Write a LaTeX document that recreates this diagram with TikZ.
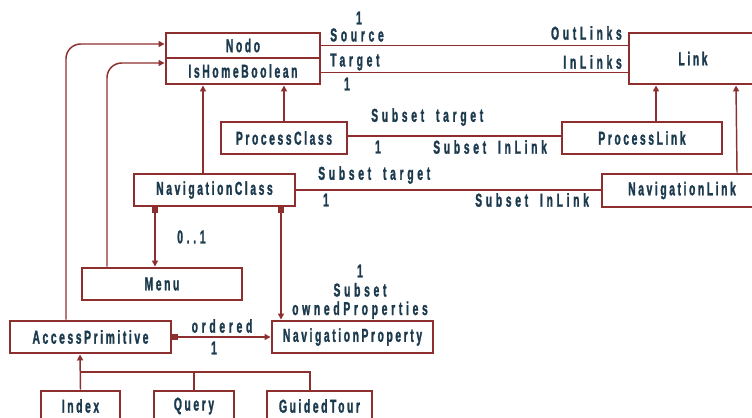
\documentclass[tikz,border=0pt]{standalone}
\usepackage{fontspec}
\newfontfamily\boxfont{Liberation Sans}[UprightFont={* Bold},FakeStretch=0.55,LetterSpace=14,WordSpace=1.8,FakeBold=1.4]
\newfontfamily\labelfont{Liberation Sans}[UprightFont={* Bold},FakeStretch=0.55,LetterSpace=20,WordSpace=1.8,FakeBold=1.4]
\usetikzlibrary{arrows.meta}
\newdimen\px \px=0.75pt
\definecolor{linered}{HTML}{8E2F2F}
\definecolor{ink}{HTML}{1C3A4E}
\tikzset{
  x=0.75pt, y=-0.75pt,
  box/.style={draw=linered, line width=2.2pt, fill=white, text=ink, inner sep=0pt,
    font=\boxfont\fontsize{14}{14}\selectfont},
  lbl/.style={text=ink, inner sep=0pt, font=\labelfont\fontsize{14}{14}\selectfont},
  conn/.style={draw=linered, line width=1.1pt},
  gen/.style={conn, -{Triangle[length=4.5pt,width=4.5pt]}},
  comp/.style={conn, {Square[length=4pt,width=4pt]}-{Triangle[length=4.5pt,width=4.5pt]}},
}
\begin{document}
\begin{tikzpicture}
\useasboundingbox (0,0) rectangle (752,417);
\clip (0,0) rectangle (752,417);

% classes
\node[box, minimum width=154\px, minimum height=25\px] (nodo) at (243,45.5) {Nodo};
\node[box, minimum width=154\px, minimum height=26\px] (home) at (243,71) {IsHomeBoolean};
\node[box, minimum width=128\px, minimum height=51\px] (link) at (693,58.5) {Link};
\node[box, minimum width=126\px, minimum height=32\px] (pclass) at (284,138) {ProcessClass};
\node[box, minimum width=160\px, minimum height=32\px] (plink) at (642,138) {ProcessLink};
\node[box, minimum width=161\px, minimum height=32\px] (navclass) at (214.5,190) {NavigationClass};
\node[box, minimum width=160\px, minimum height=33\px] (navlink) at (682,190.5) {NavigationLink};
\node[box, minimum width=160\px, minimum height=32\px] (menu) at (162,284) {Menu};
\node[box, minimum width=161\px, minimum height=32\px] (access) at (90.5,337) {AccessPrimitive};
\node[box, minimum width=161\px, minimum height=32\px] (navprop) at (352.5,337) {NavigationProperty};
\node[box, minimum width=79\px, minimum height=30\px] (index) at (80.5,406) {Index};
\node[box, minimum width=80\px, minimum height=30\px] (query) at (194,406) {Query};
\node[box, minimum width=105\px, minimum height=30\px] (gtour) at (319.5,406) {GuidedTour};

% associations between Nodo and Link
\draw[conn] (nodo.east) -- (nodo.east -| link.west);
\draw[conn] ([yshift=-1.5\px]home.east) -- ([yshift=-1.5\px]home.east -| link.west);
\node[lbl] (l1) at (359,18) {1};
\node[lbl, anchor=west] (l2) at (330,35) {Source};
\node[lbl, anchor=east] (l3) at (622,33) {OutLinks};
\node[lbl, anchor=west] (l4) at (330,62) {Target};
\node[lbl, anchor=east] (l5) at (622,62) {InLinks};
\node[lbl] (l6) at (347,84) {1};

% specialisations
\draw[gen] (pclass.north) -- (pclass.north |- home.south);
\draw[gen] ([xshift=-11.5\px]navclass.north) -- ([xshift=-40\px]home.south);
\draw[gen] ([xshift=14\px]plink.north) -- ([xshift=-37\px]link.south);
\draw[gen] ([xshift=55\px]navlink.north) -- ([xshift=43\px]link.south);

% class-link associations
\draw[conn] ([yshift=2\px]pclass.east) -- ([yshift=2\px]plink.west);
\node[lbl, anchor=west] (l7) at (371,117) {Subset target};
\node[lbl] (l8) at (378,147) {1};
\node[lbl, anchor=west] (l9) at (433,147) {Subset InLink};

\draw[conn] (navclass.east) -- (navclass.east -| navlink.west);
\node[lbl, anchor=west] (l10) at (318,175) {Subset target};
\node[lbl] (l11) at (326,200) {1};
\node[lbl, anchor=west] (l12) at (475,200) {Subset InLink};

% navigation class parts
\draw[comp] ([xshift=-59.5\px]navclass.south) -- ([xshift=-7\px]menu.north);
\node[lbl, anchor=west] (l13) at (177,237) {0..1};
\draw[comp] ([xshift=66.5\px]navclass.south) -- ([xshift=-71.5\px]navprop.north);
\node[lbl] (l14) at (360,271) {1};
\node[lbl, anchor=base] (l15) at (360,296.5) {Subset};
\node[lbl, anchor=base] (l16) at (360,315) {ownedProperties};

\draw[comp] (access.east) -- (navprop.west);
\node[lbl] (l17) at (222,326) {ordered};
\node[lbl] (l18) at (214,348) {1};

% links back to Nodo
\draw[conn, rounded corners=11pt, -{Triangle[length=4.5pt,width=4.5pt]}]
  ([xshift=-55\px]menu.north) |- ([yshift=8\px]home.west);
\draw[conn, rounded corners=11pt, -{Triangle[length=4.5pt,width=4.5pt]}]
  ([xshift=-24.5\px]access.north) |- ([yshift=1.5\px]nodo.west);

% access primitive kinds
\coordinate (bus) at (0,372);
\draw[gen] (index.north) -- ([xshift=-10.5\px]access.south);
\draw[conn] (query.north) -- (query.north |- bus);
\draw[conn] ([xshift=-9.5\px]gtour.north) |- (index.north |- bus);
\end{tikzpicture}
\end{document}
